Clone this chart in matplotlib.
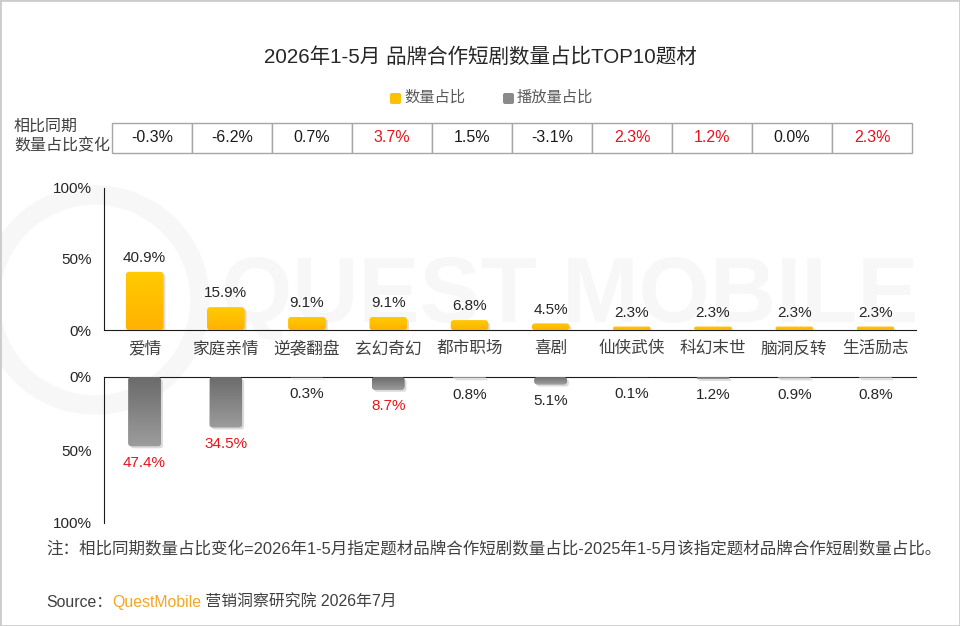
import numpy as np
import matplotlib.pyplot as plt
from matplotlib.patches import FancyBboxPatch, Rectangle, Circle
from matplotlib.colors import to_rgb
import matplotlib.patheffects as pe

plt.rcParams['font.family'] = ['Liberation Sans', 'Noto Sans CJK SC', 'DejaVu Sans']

# 数据
categories = ['爱情', '家庭亲情', '逆袭翻盘', '玄幻奇幻', '都市职场', '喜剧', '仙侠武侠', '科幻末世', '脑洞反转', '生活励志']
count_share = [40.9, 15.9, 9.1, 9.1, 6.8, 4.5, 2.3, 2.3, 2.3, 2.3]
play_share = [47.4, 34.5, 0.3, 8.7, 0.8, 5.1, 0.1, 1.2, 0.9, 0.8]
yoy_change = [-0.3, -6.2, 0.7, 3.7, 1.5, -3.1, 2.3, 1.2, 0.0, 2.3]
yoy_red = [False, False, False, True, False, False, True, True, False, True]
play_red = [True, True, False, True, False, False, False, False, False, False]

RED = '#e8141c'
TXT = '#404040'
W, H = 960, 626


def fy(py):
    return 1 - py / H


def gradient_bars(ax, bars, base_color, tip_color, px_x, px_y):
    # 圆角 + 渐变的柱子
    c0, c1 = np.array(to_rgb(base_color)), np.array(to_rgb(tip_color))
    grad = np.linspace(0, 1, 64)[:, None, None] * (c1 - c0) + c0
    for b in bars:
        x, w, h = b.get_x(), b.get_width(), b.get_height()
        b.set_visible(False)
        r_px = min(3.0, h * px_y / 2)
        r = r_px / px_x
        aspect = px_x / px_y
        patch = FancyBboxPatch((x, 0), w, h, boxstyle=f'round,pad=0,rounding_size={r}',
                               mutation_aspect=aspect, facecolor=(c0 + c1) / 2,
                               edgecolor='none', zorder=3,
                               path_effects=[pe.SimplePatchShadow(offset=(1.5, -1.5), shadow_rgbFace='#b0b0b0', alpha=0.45),
                                             pe.Normal()])
        ax.add_patch(patch)
        im = ax.imshow(grad, extent=(x, x + w, 0, h), origin='lower', aspect='auto', zorder=4)
        im.set_clip_path(patch)


fig = plt.figure(figsize=(9.6, 6.26), dpi=100)

# 水印
ring = Circle((0.95, (H - 300) / 100), 1.05, transform=fig.dpi_scale_trans, fill=False, lw=14,
              edgecolor='#f7f7f7', zorder=-2)
fig.add_artist(ring)
fig.text(570 / W, fy(298), 'QUEST MOBILE', fontsize=66, fontweight='bold', color='#f7f7f7',
         ha='center', va='center', zorder=-2)

# 标题
fig.text(0.5, fy(57), '2026年1-5月 品牌合作短剧数量占比TOP10题材', fontsize=14.8, color='#262626',
         ha='center', va='center')

# 图例
for lx, col, lab in [(390, '#FFC000', '数量占比'), (503, '#8a8a8a', '播放量占比')]:
    sq = FancyBboxPatch((lx / 100, (H - 104) / 100), 0.11, 0.11, boxstyle='round,pad=0,rounding_size=0.02',
                        transform=fig.dpi_scale_trans, facecolor=col, edgecolor='none')
    fig.add_artist(sq)
    fig.text((lx + 14) / W, fy(98), lab, fontsize=11, color='#595959', ha='left', va='center')

# 表格
fig.text(14 / W, fy(136), '相比同期\n数量占比变化', fontsize=11.5, color=TXT, ha='left', va='center',
         linespacing=1.35)
tax = fig.add_axes([112 / W, fy(153), 800 / W, 30 / H])
tax.set_xlim(0, len(categories))
tax.set_ylim(0, 1)
tax.axis('off')
for i, v in enumerate(yoy_change):
    tax.add_patch(Rectangle((i, 0), 1, 1, facecolor='white', edgecolor='#a6a6a6', lw=1, clip_on=False))
    tax.text(i + 0.5, 0.5, f'{v:.1f}%', fontsize=11.5, ha='center', va='center',
             color=RED if yoy_red[i] else '#1a1a1a')

# 上方：数量占比
x = np.arange(len(categories))
ax1 = fig.add_axes([104 / W, fy(330), 812 / W, 142 / H])
ax1.patch.set_alpha(0)
bars1 = ax1.bar(x, count_share, width=0.46)
gradient_bars(ax1, bars1, '#FFB200', '#FFCB00', 81.2, 1.42)
for i, v in enumerate(count_share):
    ax1.annotate(f'{v}%', (i, v), xytext=(0, 5), textcoords='offset points', ha='center', va='bottom',
                 fontsize=11, color='#262626')
ax1.set_xlim(-0.5, len(categories) - 0.5)
ax1.set_ylim(0, 100)
ax1.set_yticks([0, 50, 100], ['0%', '50%', '100%'])
ax1.set_xticks(x, categories)
ax1.tick_params(axis='y', length=0, pad=9, labelsize=11, labelcolor='#262626')
ax1.tick_params(axis='x', length=0, pad=8, labelsize=12, labelcolor=TXT)
for s in ['top', 'right']:
    ax1.spines[s].set_visible(False)
for s in ['left', 'bottom']:
    ax1.spines[s].set_color('#1a1a1a')

# 下方：播放量占比
ax2 = fig.add_axes([104 / W, fy(523), 812 / W, 146 / H])
ax2.patch.set_alpha(0)
bars2 = ax2.bar(x, play_share, width=0.40)
gradient_bars(ax2, bars2, '#6a6a6a', '#9c9c9c', 81.2, 1.46)
for i, v in enumerate(play_share):
    ax2.annotate(f'{v}%', (i, v), xytext=(0, -7), textcoords='offset points', ha='center', va='top',
                 fontsize=11, color=RED if play_red[i] else '#262626')
ax2.set_xlim(-0.5, len(categories) - 0.5)
ax2.set_ylim(100, 0)
ax2.set_yticks([0, 50, 100], ['0%', '50%', '100%'])
ax2.set_xticks([])
ax2.tick_params(axis='y', length=0, pad=9, labelsize=11, labelcolor='#262626')
for s in ['bottom', 'right']:
    ax2.spines[s].set_visible(False)
for s in ['left', 'top']:
    ax2.spines[s].set_color('#1a1a1a')

# 注释和来源
fig.text(46 / W, fy(548), '注：相比同期数量占比变化=2026年1-5月指定题材品牌合作短剧数量占比-2025年1-5月该指定题材品牌合作短剧数量占比。',
         fontsize=11.9, color=TXT, ha='left', va='center')
renderer = fig.canvas.get_renderer()
t = fig.text(46 / W, fy(602), 'Source：', fontsize=11.4, color=TXT, ha='left', va='center')
bb = t.get_window_extent(renderer)
t2 = fig.text(bb.x1 / W, fy(602), 'QuestMobile', fontsize=11.4, color='#f5a623', ha='left', va='center')
bb2 = t2.get_window_extent(renderer)
fig.text(bb2.x1 / W, fy(602), ' 营销洞察研究院 2026年7月', fontsize=11.4, color=TXT, ha='left', va='center')

# 边框
fig.add_artist(Rectangle((0, 0), 1, 1, transform=fig.transFigure, fill=False, edgecolor='#cccccc', lw=2))

fig.savefig('out.png', dpi=100)
